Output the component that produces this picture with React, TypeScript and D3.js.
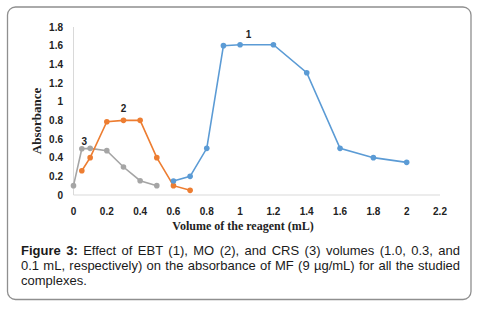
import React from "react";
import * as d3 from "d3";

const xTicks = [0, 0.2, 0.4, 0.6, 0.8, 1, 1.2, 1.4, 1.6, 1.8, 2, 2.2];
const yTicks = [0, 0.2, 0.4, 0.6, 0.8, 1, 1.2, 1.4, 1.6, 1.8];

const ebtX = [0.6, 0.7, 0.8, 0.9, 1.0, 1.2, 1.4, 1.6, 1.8, 2.0];
const ebtY = [0.15, 0.2, 0.5, 1.6, 1.61, 1.61, 1.31, 0.5, 0.4, 0.35];

const moX = [0.05, 0.1, 0.2, 0.3, 0.4, 0.5, 0.6, 0.7];
const moY = [0.26, 0.4, 0.785, 0.8, 0.8, 0.4, 0.1, 0.05];

const crsX = [0, 0.05, 0.1, 0.2, 0.3, 0.4, 0.5];
const crsY = [0.1, 0.495, 0.5, 0.475, 0.3, 0.153, 0.1];

const seriesNames = ["1", "2", "3"];
const labelX = [1.05, 0.3, 0.065];
const labelY = [1.72, 0.93, 0.57];
const colors = ["#5B9BD5", "#ED7D31", "#A5A5A5"];

const captionBold = "Figure 3:";
const captionLines = [
  " Effect of EBT (1), MO (2), and CRS (3) volumes (1.0, 0.3, and",
  "0.1 mL, respectively) on the absorbance of MF (9 µg/mL) for all the studied",
  "complexes.",
];

export default function App() {
  const W = 481;
  const H = 315;
  const x = d3.scaleLinear().domain([0, 2.2]).range([73.5, 440]);
  const y = d3.scaleLinear().domain([0, 1.8]).range([195, 27]);
  const line = d3
    .line<[number, number]>()
    .x((d) => x(d[0]))
    .y((d) => y(d[1]));

  const series = [
    ebtX.map((v, i) => [v, ebtY[i]] as [number, number]),
    moX.map((v, i) => [v, moY[i]] as [number, number]),
    crsX.map((v, i) => [v, crsY[i]] as [number, number]),
  ];
  const drawOrder = [2, 1, 0];

  const tickFont = "'Liberation Sans', Arial, sans-serif";

  return (
    <svg
      width={W}
      height={H}
      style={{ position: "absolute", left: 0, top: 0, background: "#fff" }}
    >
      <rect
        x={7.5}
        y={7}
        width={463.5}
        height={292.5}
        rx={8}
        fill="#fff"
        stroke="#8f8f8f"
        strokeWidth={1.3}
      />
      {/* axes lines */}
      <line x1={x(0)} x2={x(0)} y1={y(1.8)} y2={y(0)} stroke="#d9d9d9" strokeWidth={1} />
      <line x1={x(0)} x2={x(2.2)} y1={y(0)} y2={y(0)} stroke="#d9d9d9" strokeWidth={1} />
      {yTicks.map((t) => (
        <text
          key={"y" + t}
          x={63}
          y={y(t)}
          dy="0.35em"
          textAnchor="end"
          fontFamily={tickFont}
          fontWeight="bold"
          fontSize={10}
          fill="#222"
        >
          {String(t)}
        </text>
      ))}
      {xTicks.map((t) => (
        <text
          key={"x" + t}
          x={x(t)}
          y={211}
          dy="0.35em"
          textAnchor="middle"
          fontFamily={tickFont}
          fontWeight="bold"
          fontSize={10}
          fill="#222"
        >
          {String(t)}
        </text>
      ))}
      <text
        x={243}
        y={230}
        textAnchor="middle"
        fontFamily="'Liberation Serif', 'Times New Roman', serif"
        fontWeight="bold"
        fontSize={12}
        fill="#222"
      >
        Volume of the reagent (mL)
      </text>
      <text
        transform={`translate(41,121) rotate(-90)`}
        textAnchor="middle"
        fontFamily="'Liberation Serif', 'Times New Roman', serif"
        fontWeight="bold"
        fontSize={13}
        fill="#222"
      >
        Absorbance
      </text>
      {drawOrder.map((si) => (
        <g key={"s" + si}>
          <path
            d={line(series[si]) || ""}
            fill="none"
            stroke={colors[si]}
            strokeWidth={1.6}
          />
          {series[si].map((d, i) => (
            <circle
              key={i}
              cx={x(d[0])}
              cy={y(d[1])}
              r={2.8}
              fill={colors[si]}
            />
          ))}
        </g>
      ))}
      {seriesNames.map((n, i) => (
        <text
          key={"l" + n}
          x={x(labelX[i])}
          y={y(labelY[i])}
          dy="0.35em"
          textAnchor="middle"
          fontFamily={tickFont}
          fontWeight="bold"
          fontSize={10}
          fill="#222"
        >
          {n}
        </text>
      ))}
      <foreignObject x={21} y={244} width={439} height={50}>
        <div
          style={{
            fontFamily: "'Liberation Sans', Arial, sans-serif",
            fontSize: "13px",
            lineHeight: "14.8px",
            color: "#1a1a1a",
            margin: 0,
          }}
        >
          <div style={{ textAlign: "justify", textAlignLast: "justify", whiteSpace: "nowrap" }}>
            <b>{captionBold}</b>
            {captionLines[0]}
          </div>
          <div style={{ textAlign: "justify", textAlignLast: "justify", whiteSpace: "nowrap" }}>
            {captionLines[1]}
          </div>
          <div>{captionLines[2]}</div>
        </div>
      </foreignObject>
    </svg>
  );
}
